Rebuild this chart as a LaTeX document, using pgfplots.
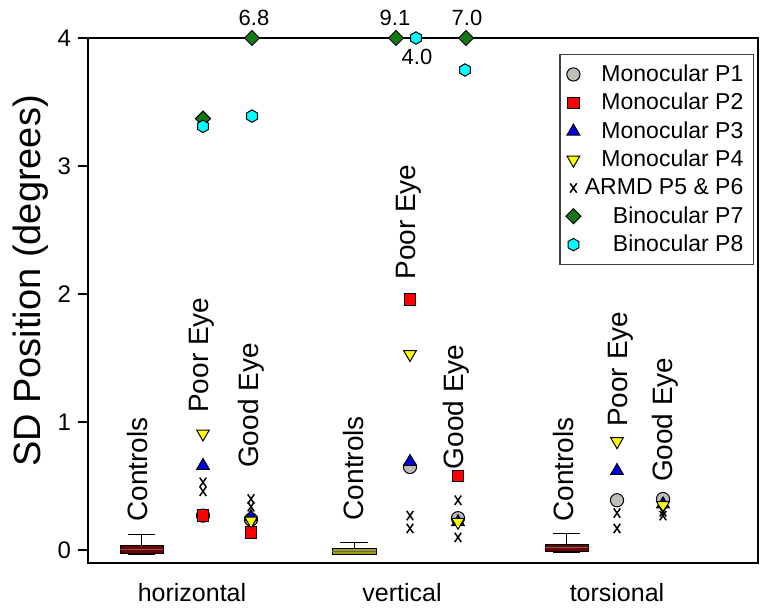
\documentclass[border=0pt]{standalone}
\usepackage{fontspec}
\setmainfont{Liberation Sans}
\usepackage{pgfplots}
\pgfplotsset{compat=1.18}
\definecolor{boxred}{RGB}{110,0,0}
\definecolor{boxolive}{RGB}{160,160,20}
\definecolor{pgray}{RGB}{190,190,185}
\definecolor{pgreen}{RGB}{20,120,20}
\definecolor{pcyan}{RGB}{0,255,255}
\definecolor{pblue}{RGB}{0,0,230}
\definecolor{pyellow}{RGB}{255,255,0}
\pgfdeclareplotmark{hexagon*}{%
  \pgfpathmoveto{\pgfpointpolar{90}{\pgfplotmarksize}}%
  \pgfpathlineto{\pgfpointpolar{150}{\pgfplotmarksize}}%
  \pgfpathlineto{\pgfpointpolar{210}{\pgfplotmarksize}}%
  \pgfpathlineto{\pgfpointpolar{270}{\pgfplotmarksize}}%
  \pgfpathlineto{\pgfpointpolar{330}{\pgfplotmarksize}}%
  \pgfpathlineto{\pgfpointpolar{30}{\pgfplotmarksize}}%
  \pgfpathclose
  \pgfusepathqfillstroke}
\begin{document}
\begin{tikzpicture}
\begin{axis}[
  scale only axis, width=335pt, height=262.5pt,
  xmin=88, xmax=758, ymin=-0.1, ymax=4,
  xtick={192,402,617}, xticklabels={horizontal,vertical,torsional},
  ytick={0,1,2,3,4},
  tick align=outside,
  x tick style={draw=none},
  y tick style={line width=1pt, black},
  major tick length=5pt,
  ytick pos=left, xtick pos=bottom,
  axis line style={line width=1.2pt},
  yticklabel style={font=\fontsize{12}{14}\selectfont},
  xticklabel style={font=\fontsize{12.5}{15}\selectfont, yshift=-1.5pt},
  /pgf/number format/assume math mode=true,
  ylabel={SD Position (degrees)},
  ylabel style={font=\fontsize{19}{22}\selectfont, at={(axis description cs:-0.085,0.537)}, anchor=center},
  clip=false,
  legend cell align=right,
  legend style={at={(axis description cs:0.994,0.9695)}, anchor=north east,
    draw=black!75, line width=0.6pt, font=\fontsize{11.5}{14}\selectfont,
    row sep=0.4pt, inner xsep=3pt, inner ysep=3pt},
]
% control boxes: horizontal
\addplot[forget plot, draw=black, line width=0.5pt] coordinates {(141.5,0.04) (141.5,0.125)};
\addplot[forget plot, draw=black, line width=0.5pt] coordinates {(128,0.125) (155,0.125)};
\addplot[forget plot, draw=black, line width=0.5pt] coordinates {(128,-0.03) (155,-0.03)};
\addplot[forget plot, draw=black, fill=boxred, line width=0.5pt] coordinates {(120,-0.023) (163,-0.023) (163,0.04) (120,0.04)} -- cycle;
\addplot[forget plot, draw=black!60, line width=0.4pt] coordinates {(120,0.01) (163,0.01)};
% vertical
\addplot[forget plot, draw=black, line width=0.5pt] coordinates {(354,0.015) (354,0.06)};
\addplot[forget plot, draw=black, line width=0.5pt] coordinates {(340,0.06) (368,0.06)};
\addplot[forget plot, draw=black, fill=boxolive, line width=0.5pt] coordinates {(332,-0.03) (376,-0.03) (376,0.015) (332,0.015)} -- cycle;
\addplot[forget plot, draw=black!60, line width=0.4pt] coordinates {(332,-0.008) (376,-0.008)};
% torsional
\addplot[forget plot, draw=black, line width=0.5pt] coordinates {(566.5,0.047) (566.5,0.13)};
\addplot[forget plot, draw=black, line width=0.5pt] coordinates {(553,0.13) (580,0.13)};
\addplot[forget plot, draw=black, line width=0.5pt] coordinates {(553,-0.016) (580,-0.016)};
\addplot[forget plot, draw=black, fill=boxred, line width=0.5pt] coordinates {(545,-0.008) (588,-0.008) (588,0.047) (545,0.047)} -- cycle;
\addplot[forget plot, draw=black!60, line width=0.4pt] coordinates {(545,0.02) (588,0.02)};
% P1
\addplot[only marks, mark=*, mark size=3.3pt, mark options={fill=pgray, draw=black, line width=0.5pt}]
  coordinates {(203,0.27) (251,0.24) (410,0.65) (458,0.25) (617,0.39) (663,0.40)};
\addlegendentry{Monocular P1}
% P2
\addplot[only marks, mark=square*, mark size=2.9pt, mark options={fill=red, draw=black, line width=0.5pt}]
  coordinates {(203,0.27) (251,0.14) (410,1.96) (458,0.58)};
\addlegendentry{Monocular P2}
% P3
\addplot[only marks, mark=triangle*, mark size=3.65pt, mark options={fill=pblue, draw=black, line width=0.5pt}]
  coordinates {(203,0.66) (251,0.26) (410,0.69) (458,0.22) (617,0.62) (663,0.36)};
\addlegendentry{Monocular P3}
% P4
\addplot[only marks, mark=triangle*, mark size=3.65pt, mark options={rotate=180, fill=pyellow, draw=black, line width=0.5pt}]
  coordinates {(203,0.91) (251,0.23) (410,1.53) (458,0.22) (617,0.85) (663,0.35)};
\addlegendentry{Monocular P4}
% ARMD P5 & P6
\addplot[only marks, mark=x, mark size=3.3pt, mark options={xscale=0.7, draw=black, line width=0.75pt}]
  coordinates {(203,0.53) (203,0.46) (251,0.40) (251,0.34) (410,0.27) (410,0.17)
               (458,0.39) (458,0.10) (617,0.29) (617,0.17) (663,0.30) (663,0.27)};
\addlegendentry{ARMD P5 \& P6}
% P7
\addplot[only marks, mark=square*, mark size=2.65pt, mark options={rotate=45, fill=pgreen, draw=black, line width=0.5pt}]
  coordinates {(203,3.37) (252,4) (396,4) (466,4)};
\addlegendentry{Binocular P7}
% P8
\addplot[only marks, mark=hexagon*, mark size=3.1pt, mark options={fill=pcyan, draw=black, line width=0.5pt}]
  coordinates {(203,3.31) (252,3.39) (416,4) (465,3.75)};
\addlegendentry{Binocular P8}
% off-scale values
\node[font=\fontsize{11}{13}\selectfont] at (axis cs:254,4.16) {6.8};
\node[font=\fontsize{11}{13}\selectfont] at (axis cs:395,4.16) {9.1};
\node[font=\fontsize{11}{13}\selectfont] at (axis cs:467,4.16) {7.0};
\node[font=\fontsize{11}{13}\selectfont] at (axis cs:417,3.855) {4.0};
% group labels
\node[rotate=90, anchor=west, inner sep=0pt, font=\fontsize{14}{16}\selectfont] at (axis cs:137,0.22) {Controls};
\node[rotate=90, anchor=west, inner sep=0pt, font=\fontsize{14}{16}\selectfont] at (axis cs:202,1.07) {Poor Eye};
\node[rotate=90, anchor=west, inner sep=0pt, font=\fontsize{14}{16}\selectfont] at (axis cs:251,0.64) {Good Eye};
\node[rotate=90, anchor=west, inner sep=0pt, font=\fontsize{14}{16}\selectfont] at (axis cs:353,0.23) {Controls};
\node[rotate=90, anchor=west, inner sep=0pt, font=\fontsize{14}{16}\selectfont] at (axis cs:409,2.11) {Poor Eye};
\node[rotate=90, anchor=west, inner sep=0pt, font=\fontsize{14}{16}\selectfont] at (axis cs:456,0.63) {Good Eye};
\node[rotate=90, anchor=west, inner sep=0pt, font=\fontsize{14}{16}\selectfont] at (axis cs:563,0.22) {Controls};
\node[rotate=90, anchor=west, inner sep=0pt, font=\fontsize{14}{16}\selectfont] at (axis cs:621,0.96) {Poor Eye};
\node[rotate=90, anchor=west, inner sep=0pt, font=\fontsize{14}{16}\selectfont] at (axis cs:665,0.53) {Good Eye};
\end{axis}
\path (current axis.south west) ++(-44pt,-21pt) coordinate (bbA);
\path (current axis.north east) ++(5.5pt,19pt) coordinate (bbB);
\path (bbA) rectangle (bbB);
\end{tikzpicture}
\end{document}
